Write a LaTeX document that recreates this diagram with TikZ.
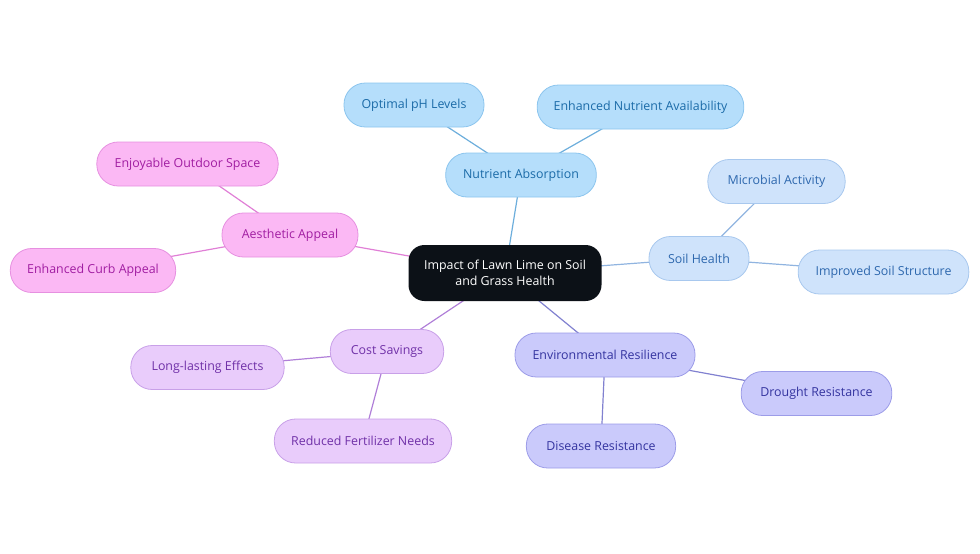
\documentclass[tikz,border=0pt]{standalone}
\usepackage{fontspec}
\setmainfont{Open Sans}
\usetikzlibrary{backgrounds}
\definecolor{hubfill}{HTML}{0C1117}
\definecolor{nafill}{HTML}{B5DEFB}\definecolor{nadraw}{HTML}{8CC5EE}\definecolor{natext}{HTML}{1B6BA8}\definecolor{naedge}{HTML}{6DAEDC}
\definecolor{shfill}{HTML}{CFE3FB}\definecolor{shdraw}{HTML}{A8C8EE}\definecolor{shtext}{HTML}{2E68AE}\definecolor{shedge}{HTML}{90B4E0}
\definecolor{aafill}{HTML}{FBB8F4}\definecolor{aadraw}{HTML}{E690E0}\definecolor{aatext}{HTML}{A11EA2}\definecolor{aaedge}{HTML}{E07FD6}
\definecolor{csfill}{HTML}{E9CCFB}\definecolor{csdraw}{HTML}{C8A0E8}\definecolor{cstext}{HTML}{7031A8}\definecolor{csedge}{HTML}{B07FD8}
\definecolor{erfill}{HTML}{CACAFB}\definecolor{erdraw}{HTML}{9C9CE8}\definecolor{ertext}{HTML}{3434A0}\definecolor{eredge}{HTML}{8181D0}
\tikzset{
  x=0.75pt, y=-0.75pt,
  pill/.style={rounded corners=16pt, minimum height=33pt, inner sep=0pt, line width=0.6pt, font=\fontsize{9.3}{11}\selectfont},
  na/.style={pill, fill=nafill, draw=nadraw, text=natext},
  sh/.style={pill, fill=shfill, draw=shdraw, text=shtext},
  aa/.style={pill, fill=aafill, draw=aadraw, text=aatext},
  cs/.style={pill, fill=csfill, draw=csdraw, text=cstext},
  er/.style={pill, fill=erfill, draw=erdraw, text=ertext},
  link/.style={line width=0.9pt},
}
\begin{document}
\begin{tikzpicture}
\useasboundingbox (0,0) rectangle (980,553);
% central topic
\node[fill=hubfill, rounded corners=12pt, minimum width=144.75pt, minimum height=42pt, text=white, align=center, inner sep=0pt, font=\fontsize{9.3}{12}\selectfont] (hub) at (505,273) {Impact of Lawn Lime on Soil\\and Grass Health};
% nutrient branch
\node[na, minimum width=113pt] (nutr) at (521,175) {Nutrient Absorption};
\node[na, minimum width=105pt] (ph) at (414,105) {Optimal pH Levels};
\node[na, minimum width=155pt] (avail) at (640.5,107) {Enhanced Nutrient Availability};
% soil branch
\node[sh, minimum width=75pt] (soil) at (699,258.5) {Soil Health};
\node[sh, minimum width=103pt] (micro) at (776.5,181.5) {Microbial Activity};
\node[sh, minimum width=128pt] (struct) at (883.5,272) {Improved Soil Structure};
% aesthetic branch
\node[aa, minimum width=102pt] (aest) at (290,235) {Aesthetic Appeal};
\node[aa, minimum width=136pt] (outdoor) at (187.5,164) {Enjoyable Outdoor Space};
\node[aa, minimum width=124pt] (curb) at (93,270.5) {Enhanced Curb Appeal};
% cost branch
\node[cs, minimum width=85pt] (cost) at (387,351.5) {Cost Savings};
\node[cs, minimum width=115pt] (long) at (207.5,367.5) {Long-lasting Effects};
\node[cs, minimum width=133pt] (fert) at (363,441) {Reduced Fertilizer Needs};
% resilience branch
\node[er, minimum width=135pt] (env) at (605,355) {Environmental Resilience};
\node[er, minimum width=113pt] (drought) at (816.5,393.5) {Drought Resistance};
\node[er, minimum width=112pt] (disease) at (601,446) {Disease Resistance};
% connectors behind the boxes
\begin{scope}[on background layer]
\draw[link, naedge] (hub.center) -- (nutr.center);
\draw[link, naedge] (nutr.center) -- (ph.center);
\draw[link, naedge] (nutr.center) -- (avail.center);
\draw[link, shedge] (hub.center) -- (soil.center);
\draw[link, shedge] (soil.center) -- (micro.center);
\draw[link, shedge] (soil.center) -- (struct.center);
\draw[link, aaedge] (hub.center) -- (aest.center);
\draw[link, aaedge] (aest.center) -- (outdoor.center);
\draw[link, aaedge] (aest.center) -- (curb.center);
\draw[link, csedge] (hub.center) -- (cost.center);
\draw[link, csedge] (cost.center) -- (long.center);
\draw[link, csedge] (cost.center) -- (fert.center);
\draw[link, eredge] (hub.center) -- (env.center);
\draw[link, eredge] (env.center) -- (drought.center);
\draw[link, eredge] (env.center) -- (disease.center);
\end{scope}
\end{tikzpicture}
\end{document}
